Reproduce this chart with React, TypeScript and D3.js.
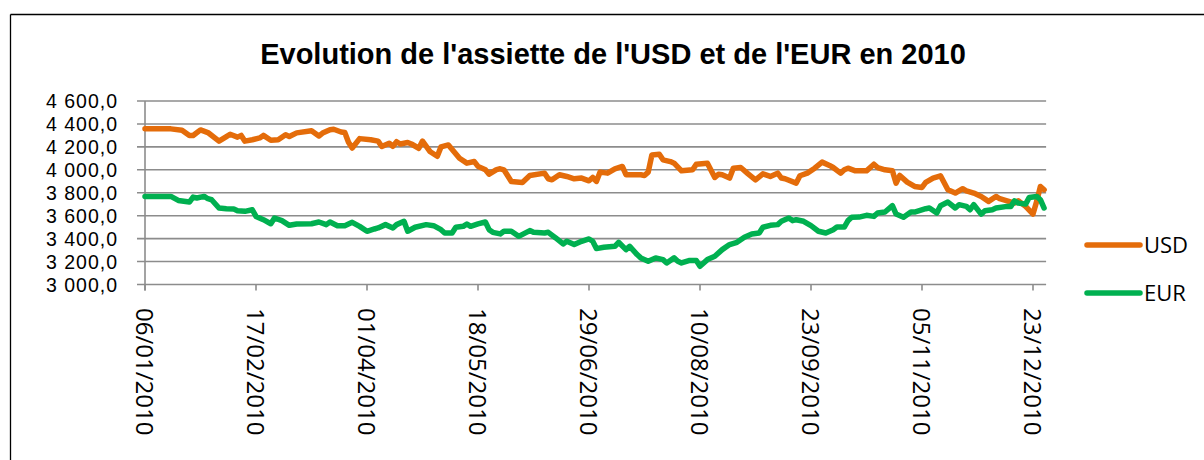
import React from "react";
import * as d3 from "d3";

const title = "Evolution de l'assiette de l'USD et de l'EUR en 2010";
const tickLabels = ["06/01/2010", "17/02/2010", "01/04/2010", "18/05/2010", "29/06/2010", "10/08/2010", "23/09/2010", "05/11/2010", "23/12/2010"];
const tickEvery = 30;
const pointCount = 244;
const yTicks = [3000, 3200, 3400, 3600, 3800, 4000, 4200, 4400, 4600];

// [business-day index, value]
const usd: [number, number][] = [
  [0, 4357], [7, 4357], [10, 4345], [12, 4300], [13, 4299], [15, 4348], [17, 4325], [20, 4250], [22, 4290], [23, 4310],
  [25, 4285], [26, 4300], [27, 4250], [29, 4262], [31, 4278], [32, 4300], [34, 4258], [36, 4262], [38, 4305], [39, 4290],
  [41, 4322], [45, 4340], [47, 4295], [48, 4320], [50, 4350], [51, 4354], [53, 4330], [54, 4325], [55, 4240], [56, 4190],
  [58, 4272], [61, 4262], [63, 4250], [64, 4203], [66, 4232], [67, 4205], [68, 4245], [69, 4225], [71, 4238], [72, 4225],
  [74, 4188], [75, 4250], [77, 4160], [79, 4118], [80, 4200], [82, 4217], [85, 4101], [87, 4058], [89, 4072], [90, 4030],
  [92, 4000], [93, 3962], [95, 4002], [96, 4009], [97, 4000], [99, 3899], [102, 3890], [104, 3951], [108, 3971], [109, 3922],
  [110, 3913], [112, 3957], [114, 3942], [116, 3922], [118, 3928], [120, 3904], [121, 3933], [122, 3899], [123, 3980], [125, 3971],
  [127, 4009], [129, 4029], [130, 3957], [134, 3957], [135, 3951], [136, 3980], [137, 4130], [139, 4136], [140, 4087], [142, 4072],
  [143, 4058], [145, 3991], [148, 4000], [149, 4049], [152, 4058], [154, 3933], [155, 3962], [156, 3957], [158, 3928], [159, 4014],
  [161, 4020], [163, 3965], [165, 3913], [167, 3965], [169, 3942], [171, 3971], [172, 3928], [173, 3922], [176, 3884], [177, 3948],
  [179, 3971], [181, 4014], [183, 4067], [185, 4038], [186, 4020], [188, 3971], [189, 4000], [190, 4014], [192, 3991], [195, 3991],
  [197, 4049], [198, 4020], [200, 4000], [202, 3991], [203, 3884], [204, 3951], [206, 3893], [208, 3855], [210, 3846], [211, 3890],
  [213, 3928], [215, 3948], [217, 3826], [219, 3797], [221, 3835], [222, 3817], [224, 3797], [226, 3768], [228, 3725], [230, 3768],
  [231, 3748], [233, 3730], [235, 3710], [236, 3730], [238, 3681], [240, 3614], [241, 3725], [242, 3855], [243, 3826],
];

const eur: [number, number][] = [
  [0, 3768], [7, 3768], [9, 3733], [12, 3719], [13, 3762], [14, 3754], [16, 3768], [17, 3748], [18, 3739], [20, 3667],
  [22, 3661], [24, 3658], [25, 3643], [27, 3638], [29, 3652], [30, 3594], [32, 3565], [34, 3530], [35, 3580], [37, 3557],
  [39, 3516], [41, 3528], [45, 3530], [47, 3545], [49, 3522], [50, 3545], [52, 3513], [54, 3513], [56, 3542], [58, 3507],
  [60, 3464], [62, 3484], [63, 3493], [65, 3522], [67, 3493], [68, 3522], [70, 3551], [71, 3464], [73, 3499], [76, 3522],
  [78, 3513], [80, 3478], [81, 3449], [83, 3449], [84, 3499], [86, 3507], [87, 3528], [88, 3507], [90, 3528], [92, 3545],
  [93, 3478], [94, 3455], [96, 3441], [97, 3464], [99, 3464], [101, 3420], [104, 3470], [105, 3455], [108, 3449], [109, 3455],
  [111, 3406], [113, 3354], [114, 3377], [116, 3348], [118, 3377], [120, 3397], [121, 3377], [122, 3313], [124, 3325], [127, 3333],
  [128, 3368], [130, 3304], [131, 3333], [133, 3261], [134, 3232], [136, 3203], [138, 3232], [140, 3217], [141, 3188], [143, 3232],
  [144, 3203], [145, 3188], [147, 3209], [149, 3209], [150, 3159], [152, 3217], [154, 3246], [156, 3304], [158, 3348], [160, 3368],
  [162, 3412], [164, 3441], [166, 3449], [167, 3499], [169, 3516], [171, 3522], [172, 3551], [174, 3580], [175, 3557], [176, 3565],
  [178, 3551], [180, 3513], [182, 3464], [184, 3449], [186, 3478], [187, 3501], [189, 3501], [190, 3557], [191, 3586], [193, 3588],
  [195, 3603], [197, 3594], [198, 3623], [200, 3632], [202, 3687], [203, 3614], [205, 3586], [207, 3632], [208, 3632], [211, 3661],
  [212, 3667], [214, 3623], [215, 3687], [217, 3719], [219, 3667], [220, 3696], [222, 3681], [223, 3652], [224, 3696], [226, 3614],
  [227, 3643], [229, 3652], [230, 3667], [233, 3681], [234, 3681], [235, 3730], [236, 3710], [238, 3701], [239, 3759], [241, 3768],
  [242, 3739], [243, 3667],
];

const series = [
  { name: "USD", data: usd, color: "#E46C0A" },
  { name: "EUR", data: eur, color: "#00B050" },
];

const fmt = (v: number) => {
  const s = v.toFixed(1);
  const [ip, dp] = s.split(".");
  return ip.replace(/\B(?=(\d{3})+(?!\d))/g, " ") + "," + dp;
};

export default function App() {
  const W = 1204, H = 460;
  const left = 145, right = 145 + (pointCount - 1) * (888 / 240);
  const top = 101, bottom = 284.5;
  const x = d3.scaleLinear().domain([0, 240]).range([left, left + 888]);
  const y = d3.scaleLinear().domain([3000, 4600]).range([bottom, top]);
  const line = d3.line<[number, number]>().x((d) => x(d[0])).y((d) => y(d[1]));
  const axisRight = right + 2;
  const font = "'Open Sans', 'Liberation Sans', sans-serif";
  const tickIdx = tickLabels.map((_, i) => i * tickEvery);

  return (
    <svg width={W} height={H} style={{ position: "absolute", left: 0, top: 0, background: "#fff" }}>
      <rect x={0} y={0} width={W} height={H} fill="#fff" />
      <line x1={10.5} y1={14.5} x2={W} y2={14.5} stroke="#000" strokeWidth={1.3} />
      <line x1={10.5} y1={14.5} x2={10.5} y2={H} stroke="#000" strokeWidth={1.3} />
      <text x={613} y={64} textAnchor="middle" fontFamily="'Liberation Sans', Arial, sans-serif" fontWeight="bold" fontSize={29}>
        {title}
      </text>
      {yTicks.map((t) => (
        <g key={t}>
          <line x1={137} x2={axisRight} y1={y(t)} y2={y(t)} stroke="#8c8c8c" strokeWidth={1.6} />
          <text x={118} y={y(t)} dy="0.36em" textAnchor="end" fontFamily="'Liberation Sans', Arial, sans-serif" fontSize={19.5} letterSpacing={1}>
            {fmt(t)}
          </text>
        </g>
      ))}
      <line x1={left} x2={left} y1={top} y2={bottom + 6} stroke="#8c8c8c" strokeWidth={1.6} />
      {tickIdx.map((ti, k) => (
        <g key={ti}>
          <line x1={x(ti)} x2={x(ti)} y1={bottom} y2={bottom + 6} stroke="#8c8c8c" strokeWidth={1.6} />
          <text
            transform={`translate(${x(ti)},308) rotate(90)`}
            dy="0.36em"
            textAnchor="start"
            fontFamily={font}
            fontSize={24}
          >
            {tickLabels[k]}
          </text>
        </g>
      ))}
      {series.map((s) => (
        <path key={s.name} d={line(s.data) || ""} fill="none" stroke={s.color} strokeWidth={5.5} strokeLinejoin="round" strokeLinecap="round" />
      ))}
      {series.map((s, k) => (
        <g key={s.name} transform={`translate(0,${245 + k * 48})`}>
          <line x1={1087} x2={1140} y1={0} y2={0} stroke={s.color} strokeWidth={5.5} strokeLinecap="round" />
          <text x={1144} y={0} dy="0.36em" fontFamily={font} fontSize={22}>
            {s.name}
          </text>
        </g>
      ))}
    </svg>
  );
}
